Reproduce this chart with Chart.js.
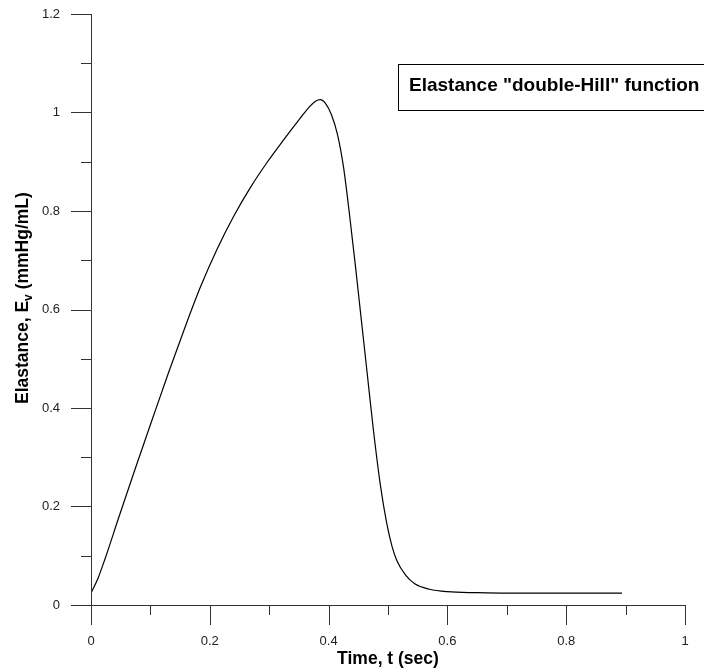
<!DOCTYPE html>
<html>
<head>
<meta charset="utf-8">
<script src="https://cdn.jsdelivr.net/npm/chart.js@4.4.1/dist/chart.umd.min.js"></script>
<style>
  html, body { margin: 0; padding: 0; background: #fff; }
  #wrap { width: 704px; height: 671px; position: relative; }
</style>
</head>
<body>
<div id="wrap"><canvas id="elastChart"></canvas></div>
<script>
// values
const timeData = [0, 0.012, 0.024, 0.046, 0.074, 0.102, 0.13, 0.158, 0.184, 0.212, 0.24, 0.268, 0.296,
    0.324, 0.352, 0.368, 0.378, 0.386, 0.395, 0.405, 0.415, 0.425, 0.435, 0.445, 0.455, 0.465, 0.475, 0.487,
    0.498, 0.507, 0.515, 0.53, 0.545, 0.57, 0.6, 0.65, 0.7, 0.8, 0.894]
const elastData = [0.024, 0.055, 0.095, 0.175, 0.275, 0.373, 0.47, 0.563, 0.645, 0.722, 0.789, 0.847, 0.898,
    0.944, 0.988, 1.012, 1.023, 1.026, 1.018, 0.995, 0.955, 0.89, 0.795, 0.69, 0.58, 0.47, 0.36, 0.245,
    0.165, 0.118, 0.09, 0.06, 0.043, 0.032, 0.027, 0.025, 0.024, 0.024, 0.024]
const xTicks = [0, 0.2, 0.4, 0.6, 0.8, 1]
const yTicks = [0, 0.2, 0.4, 0.6, 0.8, 1, 1.2]

const legendText = 'Elastance "double-Hill" function'
const FONT = '"Liberation Sans", Arial, sans-serif'

// draws axes, two-length ticks, titles and the label box
const decorations = {
    id: 'decorations',
    afterDraw(chart) {
        const { ctx, chartArea: a, scales: { x, y } } = chart
        ctx.save()
        ctx.strokeStyle = '#333'
        ctx.lineWidth = 1
        ctx.beginPath()
        ctx.moveTo(a.left + 0.5, a.top)
        ctx.lineTo(a.left + 0.5, a.bottom)
        ctx.moveTo(a.left, a.bottom + 0.5)
        ctx.lineTo(a.right, a.bottom + 0.5)
        // ticks every 0.1, long ones where labelled
        for (let i = 0; i <= 10; i++) {
            const px = Math.round(x.getPixelForValue(i / 10)) + 0.5
            const len = i % 2 === 0 ? 20 : 10
            ctx.moveTo(px, a.bottom)
            ctx.lineTo(px, a.bottom + len)
        }
        for (let i = 0; i <= 12; i++) {
            const py = Math.round(y.getPixelForValue(i / 10)) + 0.5
            const len = i % 2 === 0 ? 20 : 10
            ctx.moveTo(a.left, py)
            ctx.lineTo(a.left - len, py)
        }
        ctx.stroke()

        // x title
        ctx.fillStyle = '#000'
        ctx.font = 'bold 17.5px ' + FONT
        ctx.textAlign = 'center'
        ctx.textBaseline = 'alphabetic'
        ctx.fillText('Time, t (sec)', 388, 664)

        // y title with subscript v
        ctx.translate(28, 404)
        ctx.rotate(-Math.PI / 2)
        ctx.textAlign = 'left'
        let cx = 0
        const part1 = 'Elastance, E'
        ctx.fillText(part1, cx, 0)
        cx += ctx.measureText(part1).width
        ctx.font = 'bold 12px ' + FONT
        ctx.fillText('v', cx, 4)
        cx += ctx.measureText('v').width
        ctx.font = 'bold 17.5px ' + FONT
        ctx.fillText(' (mmHg/mL)', cx, 0)
        ctx.setTransform(1, 0, 0, 1, 0, 0)

        // label box
        ctx.fillStyle = '#fff'
        ctx.fillRect(398.5, 64.5, 320, 46)
        ctx.strokeStyle = '#000'
        ctx.strokeRect(398.5, 64.5, 320, 46)
        ctx.fillStyle = '#000'
        ctx.font = 'bold 19px ' + FONT
        ctx.textBaseline = 'middle'
        ctx.fillText(legendText, 409, 86)
        ctx.restore()
    }
}

// keep the label padding from shrinking the plot area
function noPad(s) {
    s.paddingTop = 0
    s.paddingBottom = 0
    s.paddingLeft = 0
    s.paddingRight = 0
}

const ctx = document.getElementById('elastChart')
new Chart(ctx, {
    type: 'line',
    data: {
        datasets: [{
            label: legendText,
            data: timeData.map((t, i) => ({ x: t, y: elastData[i] })),
            borderColor: '#000',
            borderWidth: 1.2,
            pointRadius: 0,
            fill: false,
            cubicInterpolationMode: 'monotone',
        }]
    },
    options: {
        responsive: true,
        maintainAspectRatio: false,
        animation: false,
        layout: { padding: { top: 14, right: 19, left: 0, bottom: 0 } },
        plugins: {
            legend: { display: false },
            tooltip: { enabled: false },
        },
        scales: {
            x: {
                type: 'linear',
                min: 0,
                max: 1,
                afterBuildTicks: s => { s.ticks = xTicks.map(v => ({ value: v })) },
                afterFit: s => { s.height = 66; noPad(s) },
                border: { display: false },
                grid: { display: false, drawTicks: false },
                ticks: {
                    color: '#222',
                    font: { family: FONT, size: 13 },
                    padding: 29,
                    maxRotation: 0,
                    callback: v => String(v),
                },
            },
            y: {
                type: 'linear',
                min: 0,
                max: 1.2,
                afterBuildTicks: s => { s.ticks = yTicks.map(v => ({ value: v })) },
                afterFit: s => { s.width = 91; noPad(s) },
                border: { display: false },
                grid: { display: false, drawTicks: false },
                ticks: {
                    color: '#222',
                    font: { family: FONT, size: 13 },
                    padding: 31,
                    callback: v => String(v),
                },
            }
        }
    },
    plugins: [decorations]
})
</script>
</body>
</html>
